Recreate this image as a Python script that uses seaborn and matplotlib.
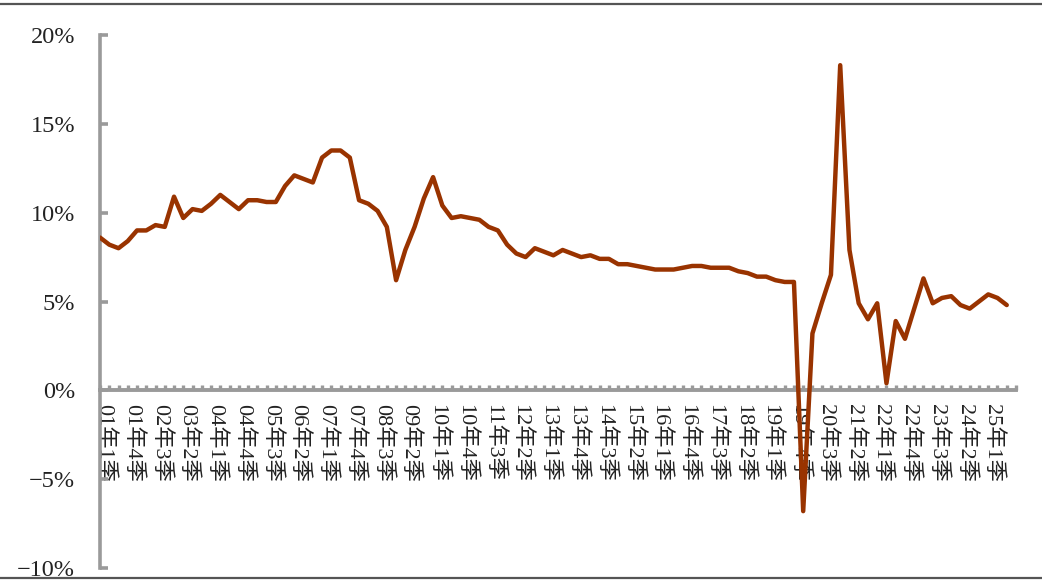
import numpy as np
import pandas as pd
import seaborn as sns
import matplotlib.pyplot as plt
from matplotlib.lines import Line2D

# quarterly real GDP growth, yoy %, 2001Q1 - 2025Q3
growth = [
    8.6, 8.2, 8.0, 8.4,      # 2001
    9.0, 9.0, 9.3, 9.2,      # 2002
    10.9, 9.7, 10.2, 10.1,   # 2003
    10.5, 11.0, 10.6, 10.2,  # 2004
    10.7, 10.7, 10.6, 10.6,  # 2005
    11.5, 12.1, 11.9, 11.7,  # 2006
    13.1, 13.5, 13.5, 13.1,  # 2007
    10.7, 10.5, 10.1, 9.2,   # 2008
    6.2, 7.9, 9.2, 10.8,     # 2009
    12.0, 10.4, 9.7, 9.8,    # 2010
    9.7, 9.6, 9.2, 9.0,      # 2011
    8.2, 7.7, 7.5, 8.0,      # 2012
    7.8, 7.6, 7.9, 7.7,      # 2013
    7.5, 7.6, 7.4, 7.4,      # 2014
    7.1, 7.1, 7.0, 6.9,      # 2015
    6.8, 6.8, 6.8, 6.9,      # 2016
    7.0, 7.0, 6.9, 6.9,      # 2017
    6.9, 6.7, 6.6, 6.4,      # 2018
    6.4, 6.2, 6.1, 6.1,      # 2019
    -6.8, 3.2, 4.9, 6.5,     # 2020
    18.3, 7.9, 4.9, 4.0,     # 2021
    4.9, 0.4, 3.9, 2.9,      # 2022
    4.6, 6.3, 4.9, 5.2,      # 2023
    5.3, 4.8, 4.6, 5.0,      # 2024
    5.4, 5.2, 4.8,           # 2025
]

# one label every three quarters
tick_labels = [
    '01年1季', '01年4季', '02年3季', '03年2季', '04年1季', '04年4季',
    '05年3季', '06年2季', '07年1季', '07年4季', '08年3季', '09年2季',
    '10年1季', '10年4季', '11年3季', '12年2季', '13年1季', '13年4季',
    '14年3季', '15年2季', '16年1季', '16年4季', '17年3季', '18年2季',
    '19年1季', '19年4季', '20年3季', '21年2季', '22年1季', '22年4季',
    '23年3季', '24年2季', '25年1季',
]
y_ticks = [-10, -5, 0, 5, 10, 15, 20]

sns.set_style('white')
plt.rcParams['font.family'] = ['Liberation Serif', 'Noto Sans CJK SC', 'DejaVu Sans']

df = pd.DataFrame({'q': np.arange(len(growth)), 'g': growth})

fig = plt.figure(figsize=(10.42, 5.86), dpi=100)
ax = fig.add_axes([100 / 1042, 18 / 586, 916 / 1042, 533 / 586])

sns.lineplot(data=df, x='q', y='g', ax=ax, color='#993300', linewidth=3.2, zorder=3)

ax.set_xlim(0, 99)
ax.set_ylim(-10, 20)
ax.set_xlabel('')
ax.set_ylabel('')

gray = '#9a9a9a'
for s in ['top', 'right']:
    ax.spines[s].set_visible(False)
ax.spines['bottom'].set_position(('data', 0))
ax.spines['bottom'].set_color(gray)
ax.spines['bottom'].set_linewidth(2.8)
ax.spines['left'].set_color(gray)
ax.spines['left'].set_linewidth(2.6)

# y axis
ax.set_yticks(y_ticks)
ax.set_yticklabels([f'{v}%'.replace('-', '\u2212') for v in y_ticks])
ax.tick_params(axis='y', left=True, direction='in', length=6, width=2.6, color=gray,
               pad=18, labelsize=17.5, labelcolor='#222222')

# x axis: small ticks every quarter, labels every three quarters
ax.set_xticks(np.arange(0, 100, 1), minor=True)
ax.set_xticks(np.arange(0, len(growth), 3) + 0.5)
ax.set_xticklabels(tick_labels, rotation=-90, va='top', ha='center')
ax.tick_params(axis='x', which='major', bottom=True, length=0, pad=10, labelsize=16,
               labelcolor='#222222')
ax.tick_params(axis='x', which='minor', bottom=True, direction='in', length=3.5,
               width=2.4, color=gray)

# frame lines at top and bottom of the picture
fig.add_artist(Line2D([0, 1], [0.994, 0.994], color='#555555', lw=1.6))
fig.add_artist(Line2D([0, 1], [0.013, 0.013], color='#555555', lw=1.6))

plt.savefig('out.png', dpi=100)
